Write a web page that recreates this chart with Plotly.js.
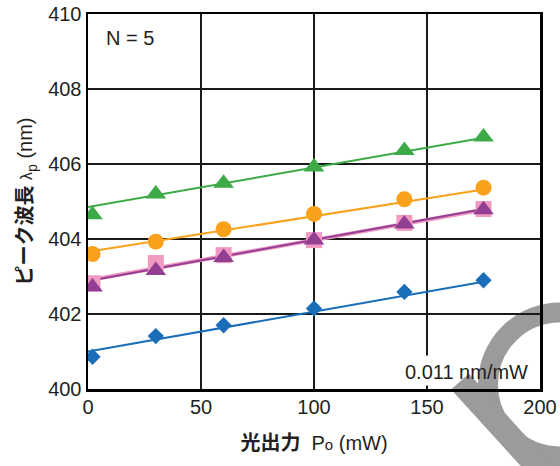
<!DOCTYPE html>
<html>
<head>
<meta charset="utf-8">
<script src="https://cdn.plot.ly/plotly-3.0.1.min.js"></script>
<style>
  html, body { margin: 0; padding: 0; background: #fff; }
  #chart { width: 560px; height: 466px; }
</style>
</head>
<body>
<div id="chart"></div>
<script>
// Optical output power (mW) at which the peak wavelength was measured
const power = [2, 30, 60, 100, 140, 175];

// Peak wavelength λp (nm) for each of the five devices (N = 5)
const greenWl  = [404.65, 405.20, 405.49, 405.92, 406.36, 406.72];
const orangeWl = [403.60, 403.93, 404.26, 404.67, 405.06, 405.37];
const pinkWl   = [402.82, 403.36, 403.57, 403.97, 404.43, 404.80];
const purpleWl = [402.72, 403.16, 403.51, 403.97, 404.40, 404.78];
const blueWl   = [400.86, 401.41, 401.70, 402.15, 402.59, 402.90];

// Linear fits (0 mW → 175 mW), slope ≈ 0.011 nm/mW
const fitPower  = [0, 175];
const greenFit  = [404.85, 406.70];
const orangeFit = [403.66, 405.32];
const pinkFit   = [402.90, 404.78];
const purpleFit = [402.88, 404.80];
const blueFit   = [401.00, 402.86];

// Axis ticks
const xTicks = [0, 50, 100, 150, 200];
const yTicks = [400, 402, 404, 406, 408, 410];

const FONT = 'Liberation Sans, Arial, Noto Sans CJK JP, sans-serif';
const INK = '#231f20';

function fitLine(y, color, width) {
  return { x: fitPower, y: y, mode: 'lines', line: { color: color, width: width },
           hoverinfo: 'skip', showlegend: false };
}
function points(y, color, symbol, size) {
  return { x: power, y: y, mode: 'markers',
           marker: { color: color, symbol: symbol, size: size, line: { width: 0 } },
           showlegend: false };
}

const traces = [
  fitLine(blueFit, '#1a6db8', 2),
  fitLine(pinkFit, '#f199c0', 4),
  fitLine(purpleFit, '#923f93', 2),
  fitLine(orangeFit, '#f9a11b', 2),
  fitLine(greenFit, '#3daa47', 2),
  points(blueWl, '#1a6db8', 'diamond', 12.5),
  points(pinkWl, '#f199c0', 'square', 16),
  points(purpleWl, '#923f93', 'triangle-up', 18),
  points(orangeWl, '#f9a11b', 'circle', 16),
  points(greenWl, '#3daa47', 'triangle-up', 18)
];

// plot-area geometry in pixels, used to place the decorative logo
const L = 88, R = 540, T = 14, B = 389.5;
const px = v => (v - L) / (R - L);
const py = v => (B - v) / (B - T);

const GREY = '#9b9b9b';

const layout = {
  width: 560, height: 466,
  margin: { l: L, r: 560 - R, t: T, b: 466 - B },
  paper_bgcolor: '#fff', plot_bgcolor: '#fff',
  font: { family: FONT, color: INK, size: 20 },
  showlegend: false,
  xaxis: {
    range: [0, 200], tickvals: xTicks, ticks: '',
    showgrid: true, gridcolor: '#1a1a1a', gridwidth: 1.5,
    showline: true, linecolor: '#000', linewidth: 2.5, mirror: true,
    zeroline: false, tickfont: { size: 20, color: INK }, ticklabelstandoff: -2,
    title: { text: '<b>光出力</b>  P<span style="font-size:15px">o</span> (mW)',
             font: { size: 20, color: INK }, standoff: 20 }
  },
  yaxis: {
    range: [400, 410], tickvals: yTicks, ticks: '',
    showgrid: true, gridcolor: '#1a1a1a', gridwidth: 1.5,
    showline: true, linecolor: '#000', linewidth: 2.5, mirror: true,
    zeroline: false, tickfont: { size: 20, color: INK },
    title: { text: '<b>ピーク波長</b> <span style="font-size:16px">λ</span><sub>p</sub> (nm)',
             font: { size: 20, color: INK }, standoff: 10 }
  },
  annotations: [
    { xref: 'paper', yref: 'paper', x: px(104), y: py(38), xanchor: 'left', yanchor: 'middle',
      text: 'N = 5', showarrow: false, font: { size: 20, color: INK } },
    { xref: 'paper', yref: 'paper', x: px(530), y: py(372), xanchor: 'right', yanchor: 'middle',
      text: '0.011 nm/mW', showarrow: false, font: { size: 20, color: INK } }
  ],
  shapes: [
    // grey logo mark in the lower-right corner
    { type: 'circle', xref: 'paper', yref: 'paper', layer: 'below',
      x0: px(488), x1: px(632), y0: py(313), y1: py(457),
      line: { color: GREY, width: 20 }, fillcolor: 'rgba(0,0,0,0)' },
    { type: 'line', xref: 'paper', yref: 'paper', layer: 'below',
      x0: px(460), y0: py(382), x1: px(560), y1: py(492),
      line: { color: GREY, width: 24 } },
    // clear space behind the slope label
    { type: 'rect', xref: 'paper', yref: 'paper', layer: 'above',
      x0: px(412), x1: px(440), y0: py(356), y1: py(386),
      line: { width: 0 }, fillcolor: '#fff' }
  ]
};

Plotly.newPlot('chart', traces, layout, { staticPlot: true, displayModeBar: false });
</script>
</body>
</html>
